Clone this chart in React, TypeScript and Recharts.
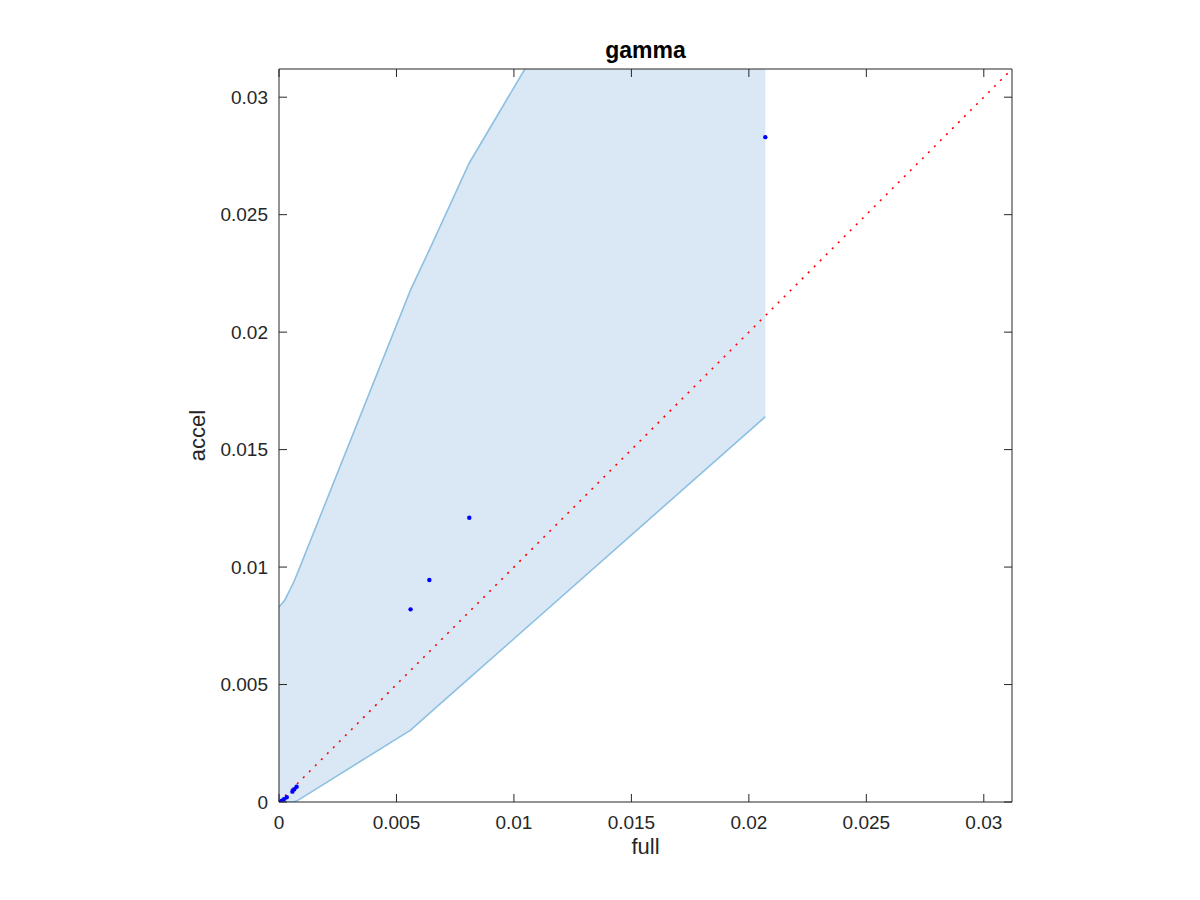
import React from 'react';
import {
  ComposedChart,
  Area,
  Line,
  Scatter,
  XAxis,
  YAxis,
  Label,
} from 'recharts';

// confidence band (x, lower, upper)
const bandX = [0, 0.00025, 0.0004, 0.0006, 0.00077, 0.0056, 0.0064, 0.0081, 0.0207];
const bandLow = [0, 0, 0, 0, 0.00005, 0.00306, 0.00377, 0.00527, 0.0164];
const bandHigh = [0.0083, 0.0086, 0.0089, 0.0093, 0.0097, 0.0218, 0.0235, 0.0272, 0.0485];

// full vs accel points
const pointX = [0, 0.00012, 0.00021, 0.00033, 0.00057, 0.00065, 0.00075, 0.0056, 0.0064, 0.0081, 0.0207];
const pointY = [0, 0.00006, 0.00012, 0.0002, 0.00044, 0.00054, 0.00065, 0.0082, 0.00945, 0.0121, 0.0283];

// y = x reference line
const diagX = [0, 0.0312];

const ticks = [0, 0.005, 0.01, 0.015, 0.02, 0.025, 0.03];
const domainMax = 0.0312;

const band = bandX.map((x, i) => ({ x, low: bandLow[i], high: bandHigh[i] }));
const points = pointX.map((x, i) => ({ x, y: pointY[i] }));
const diag = diagX.map((x) => ({ x, y: x }));

const axisColor = '#262626';
const font = '"Liberation Sans", Arial, Helvetica, sans-serif';
const TICK_LEN = 8;

// matlab style ticks: short line pointing into the box, label outside
const makeTick = (side: 'bottom' | 'left' | 'top' | 'right') => (p: any) => {
  const { x, y, payload } = p;
  const label = String(payload.value);
  if (side === 'bottom') {
    return (
      <g>
        <line x1={x} y1={y} x2={x} y2={y - TICK_LEN} stroke={axisColor} strokeWidth={1} />
        <text x={x} y={y + 26.6} textAnchor="middle" fontSize={19} fill={axisColor} fontFamily={font}>
          {label}
        </text>
      </g>
    );
  }
  if (side === 'left') {
    return (
      <g>
        <line x1={x} y1={y} x2={x + TICK_LEN} y2={y} stroke={axisColor} strokeWidth={1} />
        <text x={x - 11} y={y + 6.8} textAnchor="end" fontSize={19} fill={axisColor} fontFamily={font}>
          {label}
        </text>
      </g>
    );
  }
  if (side === 'top') {
    return <line x1={x} y1={y} x2={x} y2={y + TICK_LEN} stroke={axisColor} strokeWidth={1} />;
  }
  return <line x1={x} y1={y} x2={x - TICK_LEN} y2={y} stroke={axisColor} strokeWidth={1} />;
};

const Dot = (p: any) => <circle cx={p.cx} cy={p.cy} r={2.2} fill="#0000ff" />;

export default function App() {
  return (
    <div style={{ position: 'absolute', left: 0, top: 0, width: 1200, height: 900, background: '#fff' }}>
      <ComposedChart
        width={1200}
        height={900}
        data={band}
        margin={{ top: 68, right: 187, bottom: 68, left: 197 }}
      >
        <XAxis
          type="number"
          dataKey="x"
          domain={[0, domainMax]}
          allowDataOverflow
          ticks={ticks}
          tickSize={0}
          tickMargin={0}
          tickLine={false}
          tick={makeTick('bottom')}
          height={30}
          stroke={axisColor}
          interval={0}
        >
          <Label value="full" position="bottom" offset={6} style={{ fontSize: 22, fill: axisColor, fontFamily: font }} />
        </XAxis>
        <XAxis
          xAxisId="top"
          orientation="top"
          type="number"
          dataKey="x"
          domain={[0, domainMax]}
          allowDataOverflow
          ticks={ticks}
          tickSize={0}
          tickMargin={0}
          tickLine={false}
          tick={makeTick('top')}
          height={1}
          stroke={axisColor}
          interval={0}
        >
          <Label
            value="gamma"
            position="top"
            offset={10}
            style={{ fontSize: 23, fontWeight: 'bold', fill: '#000', fontFamily: font }}
          />
        </XAxis>
        <YAxis
          type="number"
          domain={[0, domainMax]}
          allowDataOverflow
          ticks={ticks}
          tickSize={0}
          tickMargin={0}
          tickLine={false}
          tick={makeTick('left')}
          width={82}
          stroke={axisColor}
          interval={0}
        >
          <Label
            value="accel"
            angle={-90}
            position="insideLeft"
            offset={0}
            style={{ fontSize: 22, fill: axisColor, fontFamily: font, textAnchor: 'middle' }}
          />
        </YAxis>
        <YAxis
          yAxisId="right"
          orientation="right"
          type="number"
          domain={[0, domainMax]}
          allowDataOverflow
          ticks={ticks}
          tickSize={0}
          tickMargin={0}
          tickLine={false}
          tick={makeTick('right')}
          width={1}
          stroke={axisColor}
          interval={0}
        />
        <Area
          type="linear"
          dataKey={(d: any) => [d.low, d.high]}
          fill="#d9e8f4"
          fillOpacity={1}
          stroke="none"
          isAnimationActive={false}
        />
        <Line type="linear" dataKey="high" stroke="#8dc0e2" strokeWidth={1.6} dot={false} isAnimationActive={false} />
        <Line type="linear" dataKey="low" stroke="#8dc0e2" strokeWidth={1.6} dot={false} isAnimationActive={false} />
        <Scatter data={points} dataKey="y" shape={Dot} isAnimationActive={false} />
        <Line
          data={diag}
          type="linear"
          dataKey="y"
          stroke="#ff0000"
          strokeWidth={1.6}
          strokeDasharray="2 6.5"
          dot={false}
          isAnimationActive={false}
        />
        {/* invisible copy so the top/right frame axes have a series of their own */}
        <Line
          data={diag}
          xAxisId="top"
          yAxisId="right"
          type="linear"
          dataKey="y"
          stroke="none"
          dot={false}
          legendType="none"
          isAnimationActive={false}
        />
      </ComposedChart>
    </div>
  );
}
